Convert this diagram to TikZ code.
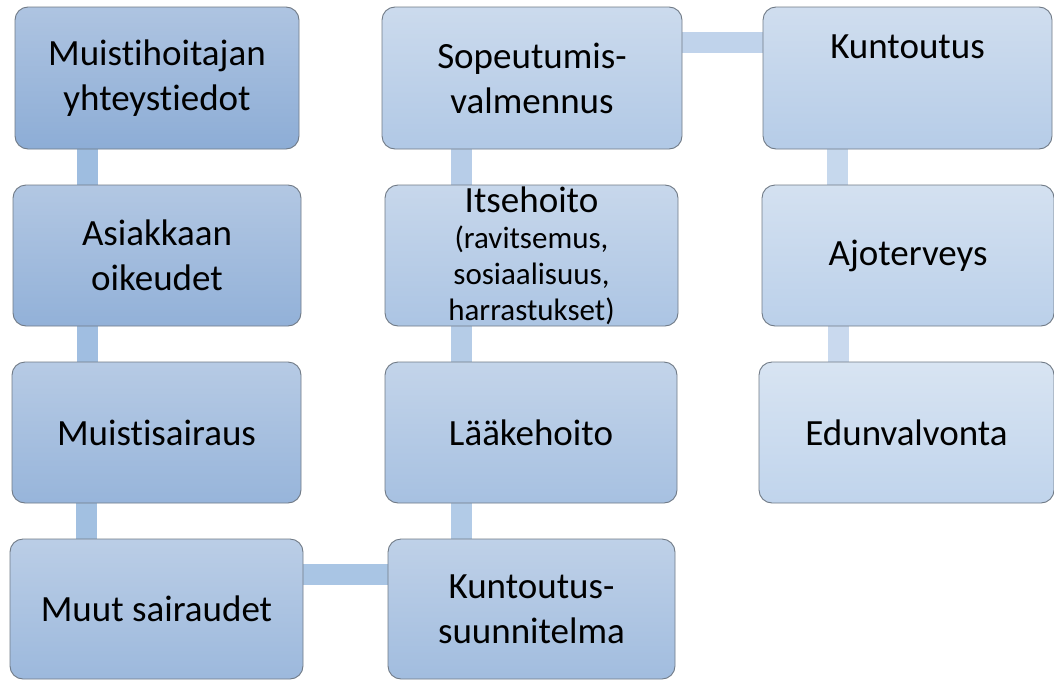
\documentclass[tikz,border=0pt]{standalone}
\usepackage{fontspec}
\setmainfont{Carlito}[RawFeature={-liga;-clig}]
\usetikzlibrary{calc,backgrounds}

% gradient end points: darkest box first, lightest box last
\definecolor{topA}{RGB}{174,196,225}
\definecolor{botA}{RGB}{141,173,214}
\definecolor{topB}{RGB}{216,228,242}
\definecolor{botB}{RGB}{192,212,236}
\definecolor{edge}{RGB}{112,122,134}
\definecolor{linkA}{RGB}{158,189,224}
\definecolor{linkB}{RGB}{203,219,239}

\newcommand{\subline}{\fontsize{31}{36}\selectfont}

\tikzset{
  stepbox/.style={draw=edge, line width=0.9pt, rounded corners=13pt,
    top color=topB!#1!topA, bottom color=botB!#1!botA,
    align=center, inner sep=0pt, text=black,
    font=\fontsize{37}{45}\selectfont},
  link/.style={line width=21pt, draw=linkB!#1!linkA}
}

\begin{document}
\begin{tikzpicture}[x=1pt, y=-1pt]
  \useasboundingbox (0,0) rectangle (1054,680);

  % first column, top to bottom
  \node[stepbox=0,  minimum width=284pt, minimum height=142pt] (b1) at (157,78)
    {Muistihoitajan\\yhteystiedot};
  \node[stepbox=10, minimum width=288pt, minimum height=141pt] (b2) at (157,255.5)
    {Asiakkaan\\oikeudet};
  \node[stepbox=20, minimum width=289pt, minimum height=141pt] (b3) at (156.5,432.5)
    {Muistisairaus};
  \node[stepbox=30, minimum width=293pt, minimum height=140pt] (b4) at (156.5,609)
    {Muut sairaudet};

  % second column, bottom to top
  \node[stepbox=40, minimum width=287pt, minimum height=140pt] (b5) at (531.5,609)
    {Kuntoutus-\\suunnitelma};
  \node[stepbox=50, minimum width=292pt, minimum height=141pt] (b6) at (531,432.5)
    {Lääkehoito};
  \node[stepbox=60, minimum width=293pt, minimum height=141pt,
        font=\subline] (b7) at (531.5,255.5)
    {{\fontsize{37}{36}\selectfont Itsehoito}\\(ravitsemus,\\sosiaalisuus,\\harrastukset)};
  \node[stepbox=70, minimum width=300pt, minimum height=142pt] (b8) at (532,78)
    {Sopeutumis-\\valmennus};

  % third column, top to bottom
  \node[stepbox=80, minimum width=289pt, minimum height=142pt] (b9) at (907.5,78)
    {Kuntoutus\\[18pt]\mbox{}};
  \node[stepbox=90, minimum width=292pt, minimum height=141pt] (b10) at (908,255.5)
    {Ajoterveys};
  \node[stepbox=100, minimum width=295pt, minimum height=141pt] (b11) at (906.5,432.5)
    {Edunvalvonta};

  % white page and connecting bars behind the boxes
  \begin{scope}[on background layer]
    \fill[white] (0,0) rectangle (1054,680);
    \draw[link=0]  ([xshift=-70pt]b1.south) -- ([xshift=-70pt]b1.south |- b2.north);
    \draw[link=5]  ([xshift=-70pt]b2.south) -- ([xshift=-70pt]b2.south |- b3.north);
    \draw[link=10] ([xshift=-70pt]b3.south) -- ([xshift=-70pt]b3.south |- b4.north);
    \draw[link=25] ([yshift=35pt]b4.east) -- ([yshift=35pt]b4.east -| b5.west);
    \draw[link=45] ([xshift=-70pt]b5.north) -- ([xshift=-70pt]b5.north |- b6.south);
    \draw[link=50] ([xshift=-70pt]b6.north) -- ([xshift=-70pt]b6.north |- b7.south);
    \draw[link=55] ([xshift=-70pt]b7.north) -- ([xshift=-70pt]b7.north |- b8.south);
    \draw[link=75] ([yshift=36pt]b8.east) -- ([yshift=36pt]b8.east -| b9.west);
    \draw[link=90] ([xshift=-70pt]b9.south) -- ([xshift=-70pt]b9.south |- b10.north);
    \draw[link=95] ([xshift=-70pt]b10.south) -- ([xshift=-70pt]b10.south |- b11.north);
  \end{scope}
\end{tikzpicture}
\end{document}
